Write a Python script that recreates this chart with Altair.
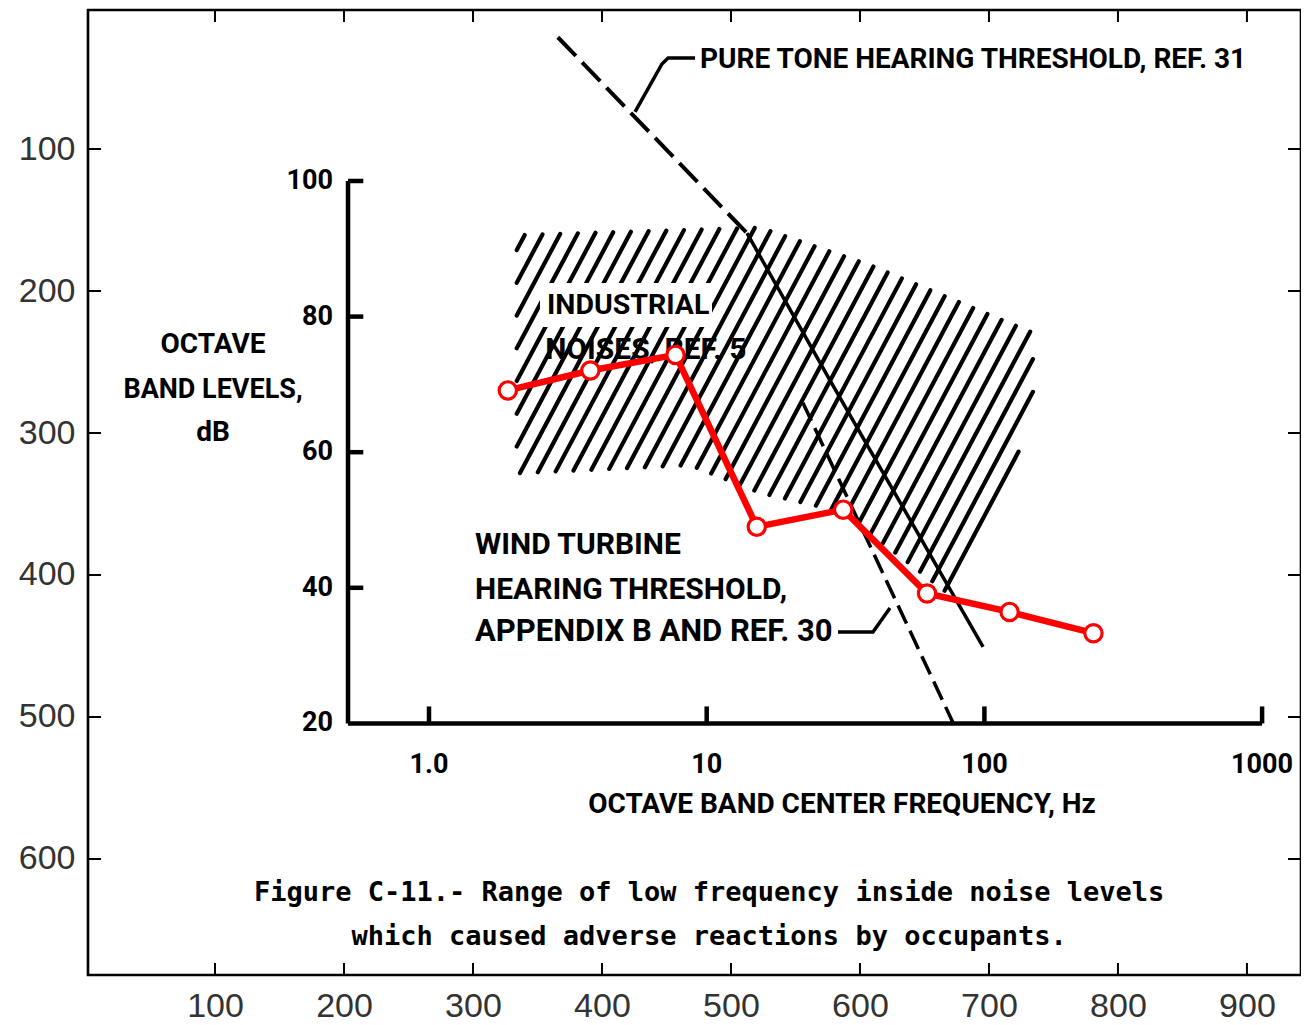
import math
import altair as alt
import pandas as pd

# ---------------- outer (image pixel) axes ----------------
OUT_X_TICKS = [100, 200, 300, 400, 500, 600, 700, 800, 900]
OUT_Y_TICKS = [100, 200, 300, 400, 500, 600]
OUT_X_DOMAIN = [1.55, 941.9]
OUT_Y_DOMAIN = [2.1, 681.7]

RED_U = [327, 391, 457, 520, 587, 652, 716, 781]
RED_V = [270, 256, 245, 366, 354, 413, 426, 441]

# ---------------- inner scanned figure (Hz, dB) ----------------
IN_F_DOMAIN = [0.05917, 1380.6]
IN_DB_DOMAIN = [-17.11, 125.22]

# industrial noises region outline
HATCH_F = [2.07, 15.6, 38.7, 149.6, 149.6, 77.1, 30.9, 15.6, 8.7, 2.07]
HATCH_DB = [92.0, 93.1, 87.6, 77.6, 64.8, 38.6, 51.2, 54.0, 58.1, 56.9]
HATCH_REF = (2.127, 56.93)

# pure tone hearing threshold (ref. 31)
PT_F = [2.91, 13.97, 27.8, 98.9]
PT_DB = [121.2, 92.3, 70.6, 31.3]
# wind turbine hearing threshold
WT_F = [22.2, 77.1]
WT_DB = [67.3, 20.1]

# leaders
LEAD1_F = [9.08, 7.26, 6.90, 5.52]
LEAD1_DB = [118.14, 118.14, 117.26, 110.18]
LEAD2_F = [29.7, 39.7, 45.7]
LEAD2_DB = [33.48, 33.48, 37.02]

# inner axes
IN_AX_F0 = 0.511
IN_X_TICKS = [1, 10, 100, 1000]
IN_X_LABELS = ["1.0", "10", "100", "1000"]
IN_Y_TICKS = [100, 80, 60, 40]
IN_Y_LABELS = ["100", "80", "60", "40", "20"]
IN_Y_LABEL_DB = [100, 80, 60, 40, 20]

# annotation texts
LEFT_TEXT = ["PURE TONE HEARING THRESHOLD, REF. 31", "INDUSTRIAL", "NOISES, REF. 5",
             "WIND TURBINE", "HEARING THRESHOLD,", "APPENDIX B AND REF. 30"]
LEFT_F = [9.46, 2.66, 2.62, 1.464, 1.464, 1.464]
LEFT_DB = [117.85, 81.7, 75.07, 46.31, 39.68, 33.48]
LEFT_SIZE = [28, 28.5, 30, 30, 30, 31]

CENTER_TEXT = ["OCTAVE", "BAND LEVELS,", "dB", "OCTAVE BAND CENTER FREQUENCY, Hz"]
CENTER_F = [0.1668, 0.1668, 0.1668, 30.7]
CENTER_DB = [75.81, 69.17, 62.83, 7.96]
CENTER_SIZE = [28, 27, 28, 28]

CAPTION = ["Figure C-11.- Range of low frequency inside noise levels",
           "which caused adverse reactions by occupants."]
CAPTION_F = [10.2, 10.2]
CAPTION_DB = [-5.0, -11.5]

INDUSTRIAL_BOX = dict(f1=2.51, f2=10.45, db1=78.47, db2=84.96)

NARROW = "Roboto, Liberation Sans, sans-serif"
MONO = "DejaVu Sans Mono, Liberation Mono, monospace"

W, H = 1213, 965

# ---------------- hatch geometry ----------------
PX_DEC = W / math.log10(IN_F_DOMAIN[1] / IN_F_DOMAIN[0])
PX_DB = H / (IN_DB_DOMAIN[1] - IN_DB_DOMAIN[0])


def to_s(f, db):
    return (PX_DEC * math.log10(f), -PX_DB * db)


def from_s(X, Y):
    return (10 ** (X / PX_DEC), -Y / PX_DB)


ang = math.radians(62)
dvec = (math.cos(ang), -math.sin(ang))
nvec = (math.sin(ang), math.cos(ang))
poly = [to_s(f, db) for f, db in zip(HATCH_F, HATCH_DB)]
refp = to_s(*HATCH_REF)
gap = 17.4 * math.sin(ang)
dot = lambda a, b: a[0] * b[0] + a[1] * b[1]
c0 = dot(nvec, refp)
cvals = [dot(nvec, p) for p in poly]
kmin = math.floor((min(cvals) - c0) / gap)
kmax = math.ceil((max(cvals) - c0) / gap)
hatch_rows = []
for k in range(kmin, kmax + 1):
    c = c0 + k * gap
    pts = []
    for i in range(len(poly)):
        a, b = poly[i], poly[(i + 1) % len(poly)]
        sa, sb = dot(nvec, a) - c, dot(nvec, b) - c
        if (sa > 0) != (sb > 0):
            t = sa / (sa - sb)
            p = (a[0] + t * (b[0] - a[0]), a[1] + t * (b[1] - a[1]))
            pts.append((dot(dvec, p), p))
    pts.sort()
    for j in range(0, len(pts) - 1, 2):
        f1, d1 = from_s(*pts[j][1])
        f2, d2 = from_s(*pts[j + 1][1])
        hatch_rows.append(dict(f1=f1, db1=d1, f2=f2, db2=d2))
hatch_df = pd.DataFrame(hatch_rows)

# ---------------- encodings ----------------
xs_in = alt.Scale(type="log", domain=IN_F_DOMAIN, nice=False)
ys_in = alt.Scale(domain=IN_DB_DOMAIN, nice=False, zero=False)


def XI(field="f"):
    return alt.X(f"{field}:Q", scale=xs_in, axis=None)


def YI(field="db"):
    return alt.Y(f"{field}:Q", scale=ys_in, axis=None)


ax_common = dict(ticks=False, tickSize=0, domain=False, grid=False, title=None,
                 labelFont="Liberation Sans, Arial, sans-serif", labelFontSize=34,
                 labelColor="#333333", labelOverlap=False, labelFlush=False)
XO = alt.X("u:Q", scale=alt.Scale(domain=OUT_X_DOMAIN, nice=False, zero=False),
           axis=alt.Axis(values=OUT_X_TICKS, orient="bottom", labelPadding=14, **ax_common))
YO = alt.Y("v:Q", scale=alt.Scale(domain=OUT_Y_DOMAIN, nice=False, zero=False, reverse=True),
           axis=alt.Axis(values=OUT_Y_TICKS, orient="left", labelPadding=13, **ax_common))

# ---------------- inner layers ----------------
hatch = alt.Chart(hatch_df).mark_rule(color="black", strokeWidth=4.2, strokeCap="round").encode(
    x=XI("f1"), x2="f2", y=YI("db1"), y2="db2")

box = alt.Chart(pd.DataFrame([INDUSTRIAL_BOX])).mark_rect(color="white").encode(
    x=XI("f1"), x2="f2", y=YI("db1"), y2="db2")

pt_df = pd.DataFrame({"f": PT_F, "db": PT_DB, "i": range(len(PT_F))})
pt_dash = alt.Chart(pt_df.iloc[:2]).mark_line(color="black", strokeWidth=4, strokeDash=[26, 9]).encode(
    x=XI(), y=YI(), order="i:Q")
pt_solid = alt.Chart(pt_df.iloc[1:]).mark_line(color="black", strokeWidth=3.5).encode(
    x=XI(), y=YI(), order="i:Q")

wt_df = pd.DataFrame({"f": WT_F, "db": WT_DB, "i": range(len(WT_F))})
wt_line = alt.Chart(wt_df).mark_line(color="black", strokeWidth=3.5, strokeDash=[20, 8]).encode(
    x=XI(), y=YI(), order="i:Q")

lead_df = pd.DataFrame({
    "f": LEAD1_F + LEAD2_F,
    "db": LEAD1_DB + LEAD2_DB,
    "g": ["a"] * len(LEAD1_F) + ["b"] * len(LEAD2_F),
    "i": list(range(len(LEAD1_F))) + list(range(len(LEAD2_F))),
})
leaders = alt.Chart(lead_df).mark_line(color="black", strokeWidth=3.5).encode(
    x=XI(), y=YI(), detail="g:N", order="i:Q")

axis_rows = [
    dict(f1=IN_AX_F0, f2=IN_AX_F0, db1=20, db2=100),
    dict(f1=IN_AX_F0, f2=1000, db1=20, db2=20),
]
for t in IN_Y_TICKS:
    axis_rows.append(dict(f1=IN_AX_F0, f2=0.58, db1=t, db2=t))
for t in IN_X_TICKS:
    axis_rows.append(dict(f1=t, f2=t, db1=20, db2=22.5))
inner_axes = alt.Chart(pd.DataFrame(axis_rows)).mark_rule(color="black", strokeWidth=4.5).encode(
    x=XI("f1"), x2="f2", y=YI("db1"), y2="db2")

left_df = pd.DataFrame({"f": LEFT_F, "db": LEFT_DB, "t": LEFT_TEXT, "s": LEFT_SIZE})
left_txt = alt.Chart(left_df).mark_text(align="left", baseline="middle", font=NARROW,
                                        fontWeight="bold", color="black").encode(
    x=XI(), y=YI(), text="t:N", size=alt.Size("s:Q", scale=None, legend=None))

center_df = pd.DataFrame({"f": CENTER_F, "db": CENTER_DB, "t": CENTER_TEXT, "s": CENTER_SIZE})
center_txt = alt.Chart(center_df).mark_text(align="center", baseline="middle", font=NARROW,
                                            fontWeight="bold", color="black").encode(
    x=XI(), y=YI(), text="t:N", size=alt.Size("s:Q", scale=None, legend=None))

xl_df = pd.DataFrame({"f": IN_X_TICKS, "db": [13.86] * 4, "t": IN_X_LABELS})
xl_txt = alt.Chart(xl_df).mark_text(align="center", baseline="middle", font=NARROW,
                                    fontWeight="bold", fontSize=27, color="black").encode(
    x=XI(), y=YI(), text="t:N")

yl_df = pd.DataFrame({"f": [0.451] * 5, "db": IN_Y_LABEL_DB, "t": IN_Y_LABELS})
yl_txt = alt.Chart(yl_df).mark_text(align="right", baseline="middle", font=NARROW,
                                    fontWeight="bold", fontSize=27, color="black").encode(
    x=XI(), y=YI(), text="t:N")

cap_df = pd.DataFrame({"f": CAPTION_F, "db": CAPTION_DB, "t": CAPTION})
cap_txt = alt.Chart(cap_df).mark_text(align="center", baseline="middle", font=MONO,
                                      fontWeight="bold", fontSize=27, color="black").encode(
    x=XI(), y=YI(), text="t:N")

inner = alt.layer(hatch, box, pt_dash, pt_solid, wt_line, leaders, inner_axes,
                  left_txt, center_txt, xl_txt, yl_txt, cap_txt)

# ---------------- outer layers ----------------
red_df = pd.DataFrame({"u": RED_U, "v": RED_V, "i": range(len(RED_U))})
red_line = alt.Chart(red_df).mark_line(color="#ff0000", strokeWidth=6.5).encode(
    x=XO, y=YO, order="i:Q")
red_pts = alt.Chart(red_df).mark_point(shape="circle", filled=False, fill="white", fillOpacity=1,
                                       color="#ff0000", strokeWidth=3.2, size=300, opacity=1).encode(
    x=XO, y=YO)

xt_df = pd.DataFrame({"u": OUT_X_TICKS})
yt_df = pd.DataFrame({"v": OUT_Y_TICKS})
tick_top = alt.Chart(xt_df).mark_rule(color="black", strokeWidth=2).encode(
    x=XO, y=alt.value(0), y2=alt.value(12))
tick_bot = alt.Chart(xt_df).mark_rule(color="black", strokeWidth=2).encode(
    x=XO, y=alt.value(H), y2=alt.value(H - 12))
tick_left = alt.Chart(yt_df).mark_rule(color="black", strokeWidth=2).encode(
    y=YO, x=alt.value(0), x2=alt.value(13))
tick_right = alt.Chart(yt_df).mark_rule(color="black", strokeWidth=2).encode(
    y=YO, x=alt.value(W), x2=alt.value(W - 13))

outer = alt.layer(tick_top, tick_bot, tick_left, tick_right, red_line, red_pts)

chart = alt.layer(inner, outer).resolve_scale(x="independent", y="independent").properties(
    width=W, height=H,
    autosize=alt.AutoSizeParams(type="none"),
    padding={"left": 80, "top": 2, "right": 0, "bottom": 48},
    background="white",
).configure_view(stroke="black", strokeWidth=2.6)

chart.save("out.html", embed_options={"renderer": "svg", "actions": False})
